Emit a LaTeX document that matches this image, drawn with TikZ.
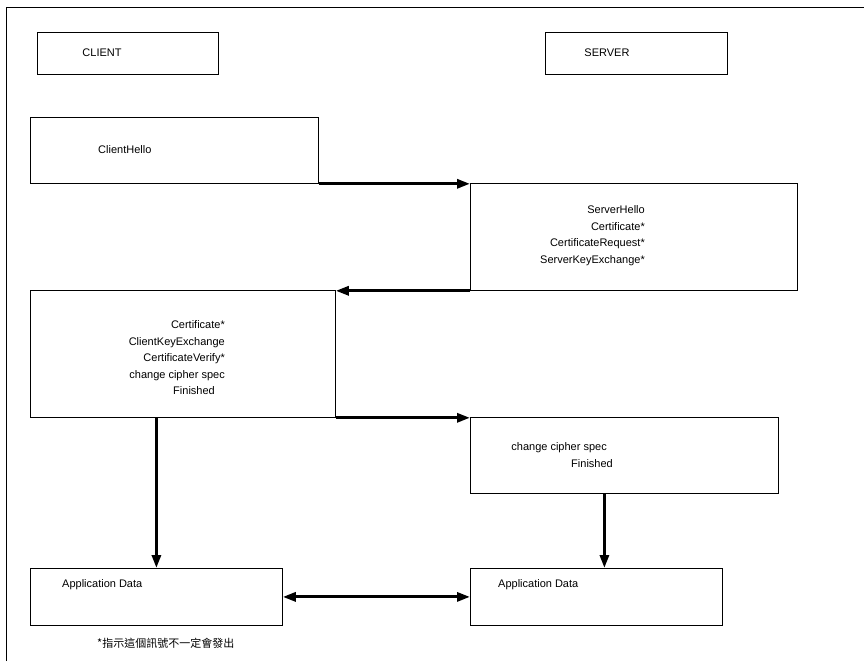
\documentclass[tikz,border=0pt]{standalone}
\usepackage{fontspec}
\setmainfont{Liberation Sans}
\newfontfamily\cjkfont{Noto Sans CJK TC}
\usetikzlibrary{arrows.meta}
\tikzset{
  msgbox/.style={draw, line width=0.8pt, rectangle, anchor=north west, inner sep=0pt},
  msgtext/.style={font=\fontsize{11}{16.5}\selectfont, inner sep=0pt},
  flow/.style={line width=3pt, -{Triangle[length=13pt,width=9pt]}},
  twoway/.style={line width=3pt, {Triangle[length=13pt,width=9pt]}-{Triangle[length=13pt,width=9pt]}}
}
\begin{document}
\begin{tikzpicture}[x=1pt,y=-1pt]
    \useasboundingbox (0,0) rectangle (864,661);
    % frame
    \draw[line width=0.6pt] (6,661) -- (6,7) -- (864,7);
    % heads
    \node[msgbox, minimum width=181pt, minimum height=42pt] (client) at (37,32) {};
    \node[msgbox, minimum width=182pt, minimum height=42pt] (server) at (545,32) {};
    \node[msgtext] (clientlbl) at (102,53) {CLIENT};
    \node[msgtext] (serverlbl) at (607,53) {SERVER};
    % messages
    \node[msgbox, minimum width=288pt, minimum height=66pt] (hello) at (30,117) {};
    \node[msgtext, anchor=west] (hellolbl) at (98,150) {ClientHello};
    \node[msgbox, minimum width=327pt, minimum height=107pt] (shello) at (470,183) {};
    \node[msgtext, align=right, anchor=east] (shellolbl) at (645,235.5)
        {ServerHello\\Certificate*\\CertificateRequest*\\ServerKeyExchange*};
    \node[msgbox, minimum width=305pt, minimum height=127pt] (ckx) at (30,290) {};
    \node[msgtext, align=right, anchor=east] (ckxlbl) at (225,358)
        {Certificate*\\ClientKeyExchange\\CertificateVerify*\\change cipher spec\hspace*{10pt}\\Finished\hspace*{10pt}};
    \node[msgbox, minimum width=308pt, minimum height=76pt] (sfin) at (470,417) {};
    \node[msgtext, align=right, anchor=east] (sfinlbl) at (613,455)
        {change cipher spec\hspace*{6pt}\\Finished};
    \node[msgbox, minimum width=252pt, minimum height=57pt] (appL) at (30,568) {};
    \node[msgtext, anchor=west] (appLlbl) at (62,585) {Application Data};
    \node[msgbox, minimum width=252pt, minimum height=57pt] (appR) at (470,568) {};
    \node[msgtext, anchor=west] (appRlbl) at (498,585) {Application Data};
    % note
    \node[msgtext, anchor=west] (note) at (97,643) {\cjkfont *指示這個訊號不一定會發出};
    % connectors
    \draw[flow] (hello.south east) -- (hello.south east -| shello.west);
    \draw[flow] (shello.south west) -- (shello.south west -| ckx.east);
    \draw[flow] (ckx.south east) -- (ckx.south east -| sfin.west);
    \draw[flow] (appL.north |- ckx.south) -- (appL.north);
    \draw[flow] ([xshift=8pt]appR.north |- sfin.south) -- ([xshift=8pt]appR.north);
    \draw[twoway] (appL.east) -- (appR.west);
\end{tikzpicture}
\end{document}
